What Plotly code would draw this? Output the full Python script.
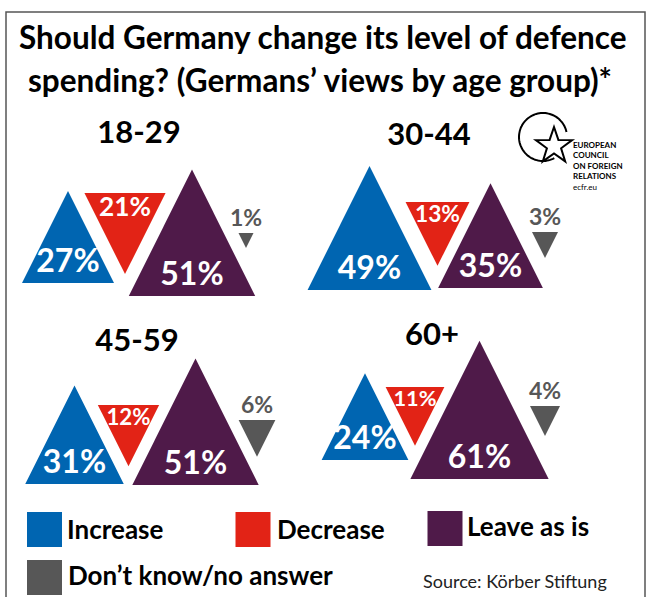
import numpy as np
import plotly.graph_objects as go

# ---------------- data ----------------
groups = ["18-29", "30-44", "45-59", "60+"]
categories = ["Increase", "Decrease", "Leave as is", "Don\u2019t know/no answer"]
increase = [27, 49, 31, 24]
decrease = [21, 13, 12, 11]
leave_as_is = [51, 35, 51, 61]
dont_know = [1, 3, 6, 4]

# ---------------- style / layout ----------------
colors = ["#0065B1", "#E22316", "#4F1A49", "#575757"]
directions = ["up", "down", "up", "down"]
FONT = "Lato"
W, H = 651, 597
K_MAIN = 17.7      # px of triangle side per sqrt(percent)
K_GREY = 15.0

# per-panel anchor positions (px): group label, and triangle anchor x / y
panel_layout = {
    "18-29": {"label": (139, 135), "x": [68, 125, 192, 246], "y": [283, 193, 296, 233]},
    "30-44": {"label": (429, 137), "x": [369.5, 437.5, 490.5, 545], "y": [290, 202, 288, 232]},
    "45-59": {"label": (137, 343), "x": [74.5, 128.5, 195.5, 257], "y": [484, 405, 485, 420]},
    "60+":   {"label": (432, 337), "x": [365, 415, 479.5, 545], "y": [460, 387, 479, 406]},
}
legend_layout = [  # square centre, text left x, text y
    ((44.5, 529.5), 67, 532),
    ((253, 529.5), 277, 532),
    ((445, 528.5), 467, 529),
    ((44.5, 577.5), 68, 578),
]

series = [increase, decrease, leave_as_is, dont_know]

fig = go.Figure()

for gi, g in enumerate(groups):
    lay = panel_layout[g]
    for ci in range(4):
        v = series[ci][gi]
        k = K_GREY if ci == 3 else K_MAIN
        w = k * np.sqrt(v)
        h = w
        cx, ay = lay["x"][ci], lay["y"][ci]
        if directions[ci] == "up":
            xs = [cx - w / 2, cx, cx + w / 2, cx - w / 2]
            ys = [ay, ay - h, ay, ay]
        else:
            xs = [cx - w / 2, cx + w / 2, cx, cx - w / 2]
            ys = [ay, ay, ay + h, ay]
        fig.add_trace(go.Scatter(x=xs, y=ys, mode="lines", fill="toself",
                                 fillcolor=colors[ci], line=dict(width=0, color=colors[ci]),
                                 hoverinfo="skip", showlegend=False))
        # value label
        txt = f"{v}%"
        if ci in (0, 2):
            fs, ty, col = 32, ay - 19, "white"
        elif ci == 1:
            fs = min(32, 10 + 0.2 * w)
            ty, col = ay + 0.5 * fs + 3, "white"
        else:
            fs, ty, col = 23, ay - 13, colors[3]
        fig.add_trace(go.Scatter(x=[cx], y=[ty], mode="text", text=[txt],
                                 textposition="middle center",
                                 textfont=dict(family=FONT, size=fs, color=col, weight="bold"),
                                 hoverinfo="skip", showlegend=False, cliponaxis=False))
    # group label
    lx, ly = lay["label"]
    fig.add_trace(go.Scatter(x=[lx], y=[ly], mode="text", text=[g],
                             textposition="middle center",
                             textfont=dict(family=FONT, size=31, color="black", weight="bold"),
                             hoverinfo="skip", showlegend=False, cliponaxis=False))

# legend
for ci, cat in enumerate(categories):
    (sx, sy), tx, ty = legend_layout[ci]
    fig.add_trace(go.Scatter(x=[sx], y=[sy], mode="markers",
                             marker=dict(symbol="square", size=35, color=colors[ci], line=dict(width=0)),
                             hoverinfo="skip", showlegend=False, cliponaxis=False))
    fig.add_trace(go.Scatter(x=[tx], y=[ty], mode="text", text=[cat],
                             textposition="middle right",
                             textfont=dict(family=FONT, size=26, color="black", weight="bold"),
                             hoverinfo="skip", showlegend=False, cliponaxis=False))

annotations = [
    dict(x=323, y=37, text="Should Germany change its level of defence", showarrow=False,
         font=dict(family=FONT, size=31.5, color="black", weight="bold"), xanchor="center", yanchor="middle"),
    dict(x=320, y=80, text="spending? (Germans\u2019 views by age group)*", showarrow=False,
         font=dict(family=FONT, size=31.5, color="black", weight="bold"), xanchor="center", yanchor="middle"),
    dict(x=421, y=581, text="Source: K\u00f6rber Stiftung", showarrow=False,
         font=dict(family=FONT, size=18, color="#222222"), xanchor="left", yanchor="middle"),
    dict(x=572, y=139, text="<b>EUROPEAN<br>COUNCIL<br>ON FOREIGN<br>RELATIONS</b><br>ecfr.eu",
         showarrow=False, align="left", borderpad=0,
         font=dict(family=FONT, size=8, color="black"), xanchor="left", yanchor="top"),
]

# logo shapes: open circle and star outline
cx0, cy0, r0 = 543, 137, 24
th = np.radians(np.linspace(-12, -298, 80))
arc = "M " + " L ".join(f"{cx0 + r0*np.cos(t):.1f},{cy0 + r0*np.sin(t):.1f}" for t in th)
scx, scy, R, r = 554, 146, 19, 7.5
pts = []
for i in range(10):
    ang = np.radians(-90 + 36 * i)
    rad = R if i % 2 == 0 else r
    pts.append(f"{scx + rad*np.cos(ang):.1f},{scy + rad*np.sin(ang):.1f}")
star = "M " + " L ".join(pts) + " Z"

shapes = [
    dict(type="rect", xref="x", yref="y", x0=6, x1=645, y0=12, y1=620,
         line=dict(color="#555555", width=1.5), fillcolor="rgba(0,0,0,0)", layer="below"),
    dict(type="path", xref="x", yref="y", path=arc, line=dict(color="black", width=2)),
    dict(type="path", xref="x", yref="y", path=star, line=dict(color="black", width=2),
         fillcolor="white"),
]

fig.update_layout(
    width=W, height=H, margin=dict(l=0, r=0, t=0, b=0),
    paper_bgcolor="white", plot_bgcolor="white",
    xaxis=dict(range=[0, W], visible=False, fixedrange=True),
    yaxis=dict(range=[H, 0], visible=False, fixedrange=True),
    annotations=annotations, shapes=shapes, showlegend=False,
)

fig.write_html("out.html", config={"displayModeBar": False},
               post_script="document.body.style.margin='0px';document.body.style.overflow='hidden';")
